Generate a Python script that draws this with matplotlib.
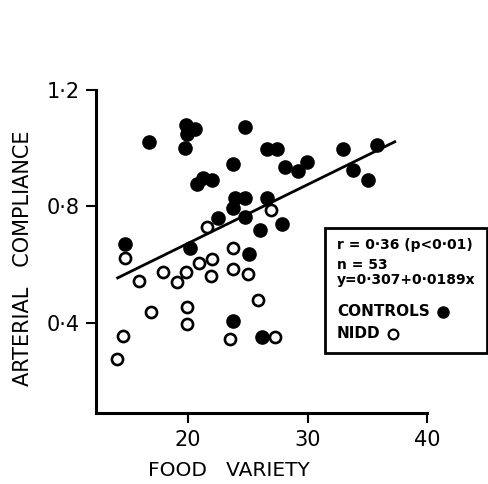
import matplotlib
matplotlib.use("Agg")
import matplotlib.pyplot as plt
from matplotlib.patches import Rectangle

# CONTROLS (filled)
ctrl_x = [16.7, 19.83, 19.9, 20.6, 19.75, 24.77, 23.77, 26.6, 27.45, 28.1,
          20.75, 21.26, 22.0, 23.93, 24.77, 23.77, 26.6, 22.5, 24.77, 26.0,
          27.9, 14.73, 20.17, 25.1, 23.77, 26.2, 29.2, 29.96, 32.97, 35.8,
          33.8, 35.1]
ctrl_y = [1.022, 1.080, 1.049, 1.066, 1.001, 1.073, 0.947, 0.998, 0.997, 0.937,
          0.878, 0.899, 0.892, 0.830, 0.830, 0.793, 0.830, 0.760, 0.762, 0.718,
          0.738, 0.670, 0.657, 0.636, 0.407, 0.350, 0.923, 0.954, 0.998, 1.010,
          0.926, 0.889]

# NIDD (open)
nidd_x = [21.6, 23.77, 14.73, 17.9, 15.9, 19.1, 19.83, 20.9, 22.0, 21.9,
          23.77, 25.0, 25.86, 16.9, 19.9, 19.9, 14.56, 14.06, 23.5, 27.3, 26.9]
nidd_y = [0.728, 0.657, 0.623, 0.575, 0.544, 0.540, 0.575, 0.605, 0.619, 0.561,
          0.585, 0.568, 0.479, 0.438, 0.455, 0.397, 0.353, 0.274, 0.343, 0.350,
          0.786]

# regression line as drawn
line_x = [14.1, 37.3]
line_y = [0.554, 1.022]

xticks = [20, 30, 40]
yticks = [0.4, 0.8, 1.2]
ytick_labels = ["0\u00b74", "0\u00b78", "1\u00b72"]

legend_lines = ["r = 0\u00b736 (p<0\u00b701)", "n = 53", "y=0\u00b7307+0\u00b70189x"]

fig = plt.figure(figsize=(4.88, 4.84), dpi=100)
ax = fig.add_axes([0.197, 0.147, 0.678, 0.667])

ax.plot(line_x, line_y, color="black", lw=2, zorder=1)
ax.plot(ctrl_x, ctrl_y, "o", color="black", ms=9.5, zorder=2)
ax.plot(nidd_x, nidd_y, "o", mfc="white", mec="black", mew=1.9, ms=8, zorder=3)

ax.set_xlim(12.3, 40)
ax.set_ylim(0.09, 1.2)
ax.set_xticks(xticks)
ax.set_yticks(yticks)
ax.set_yticklabels(ytick_labels)
for s in ["top", "right"]:
    ax.spines[s].set_visible(False)
for s in ["left", "bottom"]:
    ax.spines[s].set_linewidth(2.2)
ax.tick_params(direction="out", length=7, width=1.5, labelsize=15, pad=5)

ax.set_xlabel("FOOD   VARIETY", fontsize=14.5)
ax.xaxis.set_label_coords(0.40, -0.148)
ax.set_ylabel("ARTERIAL   COMPLIANCE", fontsize=15)
ax.yaxis.set_label_coords(-0.19, 0.48)

# legend box
fig.patches.append(Rectangle((325 / 488, 1 - 353 / 484), 162 / 488, 125 / 484,
                             transform=fig.transFigure, fill=False, lw=2, color="black"))
ty = [1 - 245 / 484, 1 - 265 / 484, 1 - 280 / 484]
for t, y in zip(legend_lines, ty):
    fig.text(337 / 488, y, t, fontsize=10, fontweight="bold", va="center")
fig.text(337 / 488, 1 - 312 / 484, "CONTROLS", fontsize=11, fontweight="bold", va="center")
fig.text(337 / 488, 1 - 334 / 484, "NIDD", fontsize=11, fontweight="bold", va="center")
fig.lines.append(plt.Line2D([443 / 488], [1 - 312 / 484], marker="o", color="black",
                            ms=8, transform=fig.transFigure))
fig.lines.append(plt.Line2D([393 / 488], [1 - 334 / 484], marker="o", mfc="white",
                            mec="black", mew=1.6, ms=7, transform=fig.transFigure))

fig.savefig("out.png", dpi=100)
